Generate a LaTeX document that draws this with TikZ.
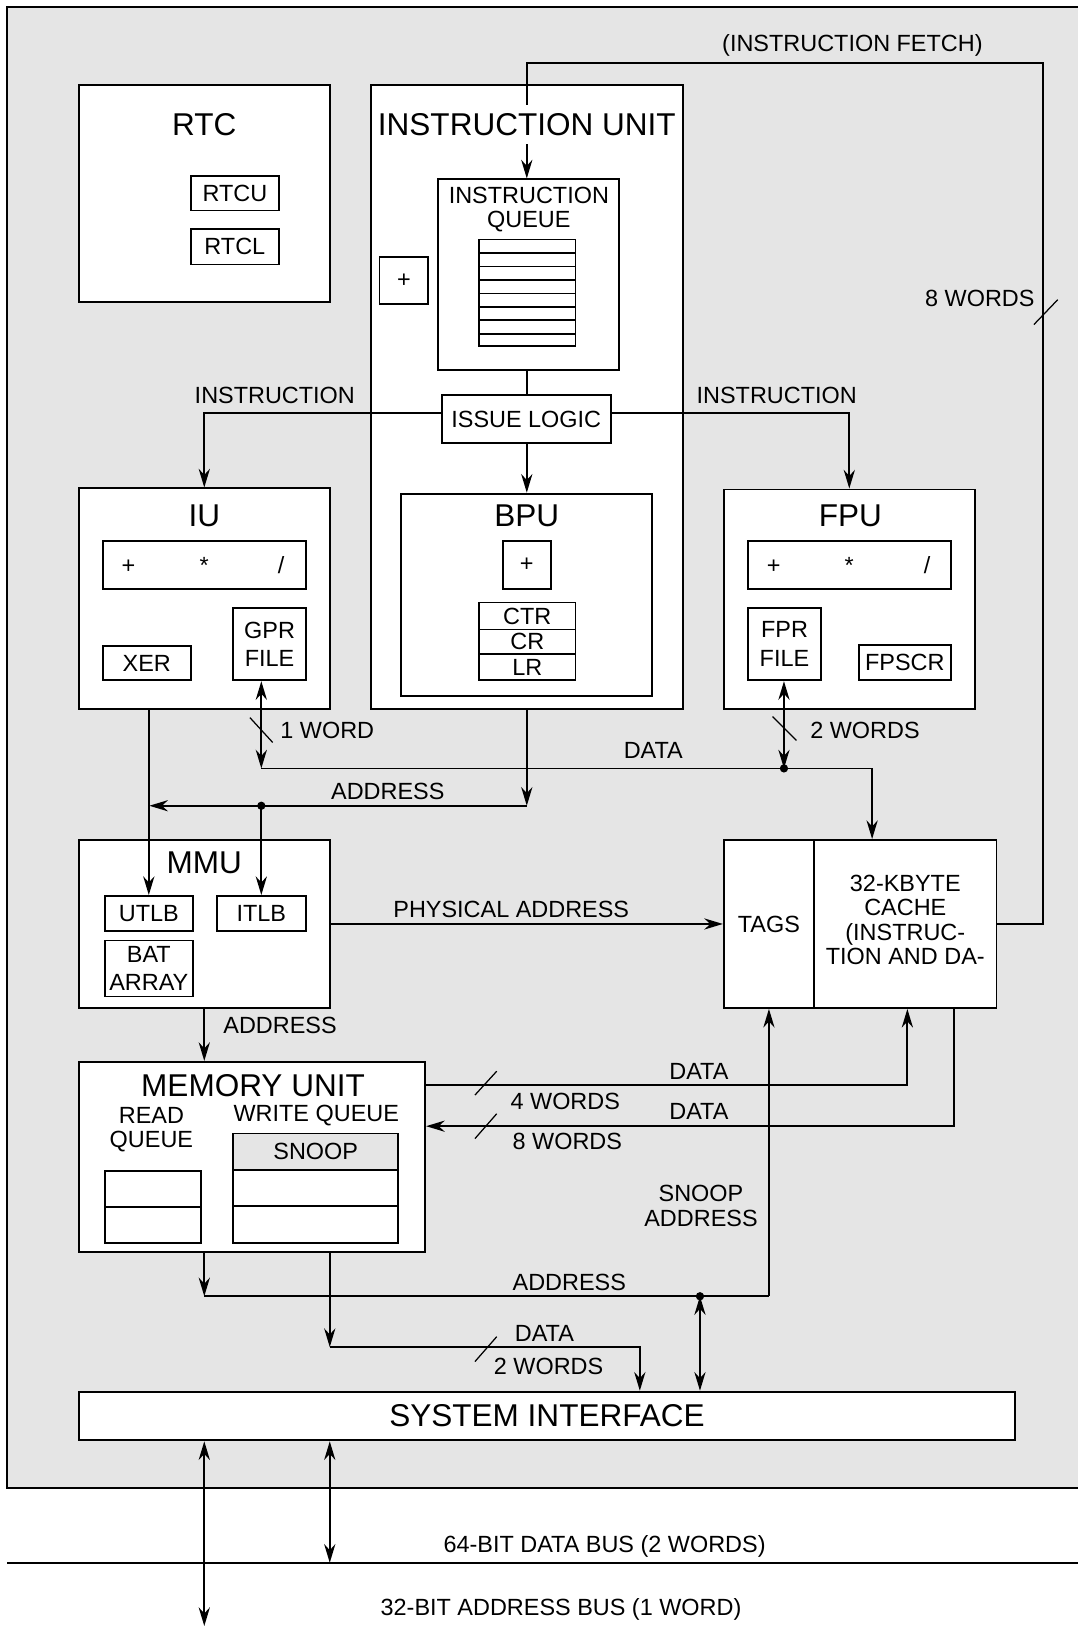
\documentclass[tikz,border=0pt]{standalone}
\usepackage{fontspec}
\setmainfont{Liberation Sans}
\usetikzlibrary{fit,arrows.meta}
\newcommand\lbf{\fontsize{11.3}{11.6}\selectfont}
\newcommand\lbfw{\fontsize{11.3}{13.6}\selectfont}
\newcommand\ttlfont{\fontsize{15.2}{17}\selectfont}
\newcommand\bx[7][]{\node[box,fit={(#3,#4) (#5,#6)}] (#2) {};
  \node[lbl,#1] at (#2.center) {#7};}
\begin{document}
\begin{tikzpicture}[x=0.5pt,y=-0.5pt,
  box/.style={draw,fill=white,line width=0.9pt,inner sep=0pt},
  lbl/.style={font=\lbf,inner sep=0pt,align=center},
  ttl/.style={font=\ttlfont,inner sep=0pt},
  conn/.style={line width=0.85pt},
  arr/.style={conn,-{Stealth[length=9pt,width=5.4pt]}},
  darr/.style={conn,{Stealth[length=9pt,width=5.4pt]}-{Stealth[length=9pt,width=5.4pt]}},
  slash/.style={line width=0.6pt},
  dot/.style={circle,fill,inner sep=0pt,minimum size=4pt}]
\useasboundingbox (0,0) rectangle (1039,1568);
\draw[fill=gray!20,line width=0.9pt] (7,7) rectangle (1060,1435);

% RTC
\bx{rtc}{76}{82}{318}{291}{}
\node[ttl] at (197,120) {RTC};
\bx{rtcu}{184}{170}{269}{203}{RTCU}
\bx{rtcl}{184}{221}{269}{255}{RTCL}

% Instruction unit
\bx{iunit}{358}{82}{659}{684}{}
\bx{iq}{422}{173}{597}{357}{}
\node[lbl] at (510,202) {INSTRUCTION\\QUEUE};
\bx{stk}{462}{231}{555}{334}{}
\foreach \yy in {244,257,270,283,296,309,322}
  \draw[line width=0.9pt] (stk.west |- 0,\yy) -- (stk.east |- 0,\yy);
\bx{ipl}{366}{248}{413}{293}{+}
\bx{issue}{426}{381}{589}{427}{ISSUE LOGIC}

% IU
\bx{iu}{76}{471}{318}{684}{}
\node[ttl] at (197,497) {IU};
\bx{iualu}{99}{522}{295}{568}{}
\node[lbl,anchor=base] at (124,553) {+};
\node[lbl,anchor=base] at (197,553) {*};
\node[lbl,anchor=base] at (271,553) {/};
\bx{xer}{99}{623}{184}{656}{XER}
\bx[font=\lbfw]{gpr}{225}{586}{295}{656}{GPR\\FILE}

% BPU
\bx{bpu}{387}{476}{629}{671}{}
\node[ttl] at (508,497) {BPU};
\bx{bpl}{485}{522}{531}{568}{+}
\bx{ctr}{462}{581}{555}{607}{CTR}
\bx{cr}{462}{607}{555}{631}{CR}
\bx{lr}{462}{631}{555}{656}{LR}

% FPU
\bx{fpu}{698}{472}{940}{684}{}
\node[ttl] at (820,497) {FPU};
\bx{fpalu}{721}{522}{917}{568}{}
\node[lbl,anchor=base] at (746,553) {+};
\node[lbl,anchor=base] at (819,553) {*};
\node[lbl,anchor=base] at (894,553) {/};
\bx[font=\lbfw]{fpr}{721}{586}{792}{656}{FPR\\FILE}
\bx{fpscr}{828}{622}{917}{656}{FPSCR}

% MMU
\bx{mmu}{76}{810}{318}{972}{}
\node[ttl] at (197,832) {MMU};
\bx{utlb}{101}{864}{186}{898}{UTLB}
\bx{itlb}{209}{864}{295}{898}{ITLB}
\bx[font=\lbfw]{bat}{101}{907}{186}{961}{BAT\\ARRAY}

% Cache
\bx{cache}{698}{810}{961}{972}{}
\bx{tags}{698}{810}{785}{972}{TAGS}
\bx{cdat}{785}{810}{961}{972}{}
\node[lbl,font=\fontsize{11.3}{11.7}\selectfont] at (873,887) {32-KBYTE\\CACHE\\(INSTRUC-\\TION AND DA-};

% Memory unit
\bx{mu}{76}{1024}{410}{1207}{}
\node[ttl] at (244,1047) {MEMORY UNIT};
\node[lbl] at (146,1089) {READ\\QUEUE};
\node[lbl] at (305,1076) {WRITE QUEUE};
\node[box,fill=gray!20,fit={(225,1093) (384,1128)}] (snoop) {};
\node[lbl] at (snoop.center) {SNOOP};
\bx{wqa}{225}{1128}{384}{1163}{}
\bx{wqb}{225}{1163}{384}{1199}{}
\bx{rqa}{101}{1129}{194}{1164}{}
\bx{rqb}{101}{1164}{194}{1199}{}

% System interface
\bx[font=\ttlfont]{si}{76}{1342}{979}{1389}{SYSTEM INTERFACE}

% ---- connectors ----
% instruction fetch
\draw[arr] (cdat.east) -| (1006,61) -| (iq.north -| 508,0);
\node[ttl,fill=white,inner xsep=1pt,inner ysep=4pt] at (508,120) {INSTRUCTION UNIT};
\node[lbl] at (822,44) {(INSTRUCTION FETCH)};
\node[lbl,anchor=east] at (998,288) {8 WORDS};
\draw[slash] (997,313) -- (1020,289);

% issue logic
\draw[conn] (iq.south -| 508,0) -- (issue.north -| 508,0);
\draw[arr] (issue.south -| 508,0) -- (bpu.north -| 508,0);
\draw[arr] (issue.west |- 0,398) -| (iu.north);
\draw[arr] (issue.east |- 0,398) -| (fpu.north);
\node[lbl] at (265,381) {INSTRUCTION};
\node[lbl] at (749,381) {INSTRUCTION};

% data bus
\coordinate (dL) at (252,741);
\node[dot] (dR) at (756,741) {};
\draw[darr] (gpr.south -| dL) -- (dL);
\draw[darr] (fpr.south -| dR) -- (dR.center);
\draw[conn] (dL) -- (dR.center);
\draw[arr] (dR.center) -| (cache.north -| 841,0);
\draw[slash] (241,692) -- (263,716);
\draw[slash] (745,691) -- (768,714);
\node[lbl,anchor=west] at (270,704) {1 WORD};
\node[lbl,anchor=west] at (781,704) {2 WORDS};
\node[lbl] at (630,724) {DATA};

% address to MMU
\coordinate (aR) at (508,777);
\node[dot] (aD) at (252,777) {};
\coordinate (aL) at (144,777);
\draw[arr] (iunit.south -| aR) -- (aR);
\draw[arr] (aR) -- (aL);
\draw[arr] (iu.south -| utlb.north) -- (utlb.north);
\draw[arr] (aD.center) -- (itlb.north);
\node[lbl] at (374,763) {ADDRESS};

% physical address
\draw[arr] (mmu.east) -- (cache.west);
\node[lbl] at (493,877) {PHYSICAL ADDRESS};

% MMU to memory unit
\draw[arr] (mmu.south) -- (mmu.south |- mu.north);
\node[lbl,anchor=west] at (215,989) {ADDRESS};

% memory unit <-> cache
\draw[arr] (mu.east |- 0,1046) -| (cdat.south -| 875,0);
\draw[arr] (cdat.south -| 920,0) |- (mu.east |- 0,1086);
\draw[slash] (458,1056) -- (479,1033);
\draw[slash] (458,1098) -- (479,1074);
\node[lbl] at (674,1033) {DATA};
\node[lbl,anchor=west] at (492,1062) {4 WORDS};
\node[lbl] at (674,1072) {DATA};
\node[lbl,anchor=west] at (494,1101) {8 WORDS};

% snoop address
\node[dot] (sD) at (675,1250) {};
\coordinate (sR) at (tags.south |- 0,1250);
\coordinate (sL) at (mmu.south |- 0,1250);
\draw[arr] (mu.south -| sL) -- (sL);
\draw[conn] (sL) -- (sR);
\draw[arr] (sR) -- (tags.south);
\draw[darr] (sD.center) -- (si.north -| sD);
\node[lbl,font=\fontsize{11.3}{12}\selectfont] at (676,1163) {SNOOP\\ADDRESS};
\node[lbl] at (549,1237) {ADDRESS};

% data 2 words to system interface
\coordinate (wC) at (318,1299);
\draw[arr] (mu.south -| wC) -- (wC);
\draw[arr] (wC) -| (si.north -| 617,0);
\draw[slash] (458,1313) -- (479,1289);
\node[lbl] at (525,1286) {DATA};
\node[lbl] at (529,1318) {2 WORDS};

% external buses
\coordinate (dbus) at (318,1507);
\coordinate (abus) at (197,1568);
\draw[line width=0.9pt] (7,1507) -- (1060,1507);
\draw[darr] (si.south -| dbus) -- (dbus);
\draw[darr] (si.south -| abus) -- (abus);
\node[lbl] at (583,1491) {64-BIT DATA BUS (2 WORDS)};
\node[lbl] at (541,1552) {32-BIT ADDRESS BUS (1 WORD)};
\end{tikzpicture}
\end{document}
